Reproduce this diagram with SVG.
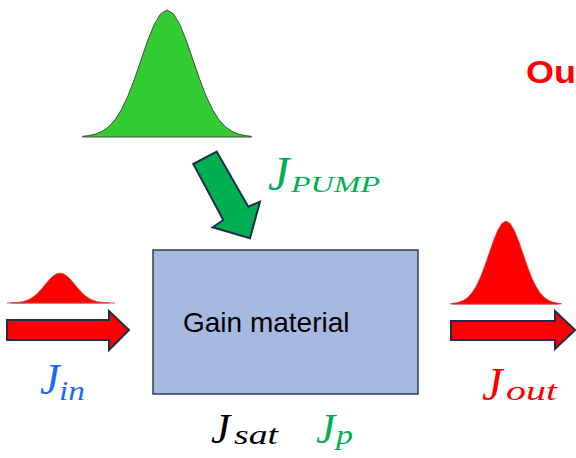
<svg xmlns="http://www.w3.org/2000/svg" xmlns:xlink="http://www.w3.org/1999/xlink" width="576" height="458" viewBox="0 0 576 458">
<style>
.math{font-family:"Liberation Serif","DejaVu Serif",serif;font-style:italic}
.arrow-red{fill:#ff0000;stroke:#1f2d4d;stroke-width:2;stroke-linejoin:miter}
.arrow-green{fill:#00b050;stroke:#1f2d4d;stroke-width:2;stroke-linejoin:miter}
.gauss-red{fill:#ff0000;stroke:#e04040;stroke-width:0.8}
.gauss-green{fill:#33cc33;stroke:#4a4a4a;stroke-width:1}
.label{font-family:"Liberation Sans",Arial,sans-serif}
</style>
<defs>
<path id="gauss" vector-effect="non-scaling-stroke" d="M-3.25,0 L-3.25,-0.0051 L-3,-0.0111 L-2.75,-0.0228 L-2.5,-0.0439 L-2.25,-0.0796 L-2,-0.1353 L-1.75,-0.2163 L-1.5,-0.3247 L-1.25,-0.4578 L-1,-0.6065 L-0.75,-0.7548 L-0.5,-0.8825 L-0.25,-0.9692 L0,-1 L0.25,-0.9692 L0.5,-0.8825 L0.75,-0.7548 L1,-0.6065 L1.25,-0.4578 L1.5,-0.3247 L1.75,-0.2163 L2,-0.1353 L2.25,-0.0796 L2.5,-0.0439 L2.75,-0.0228 L3,-0.0111 L3.25,-0.0051 L3.25,0 Z"/>
</defs>
<rect width="576" height="458" fill="#ffffff"/>

<g id="pump-pulse">
<use xlink:href="#gauss" class="gauss-green" transform="translate(167,137) scale(26,127)"/>
</g>

<g id="input-pulse">
<line x1="7" y1="303" x2="115" y2="303" stroke="#ff4040" stroke-width="1"/>
<use xlink:href="#gauss" class="gauss-red" transform="translate(60,303) scale(15,30)"/>
</g>

<g id="output-pulse">
<line x1="452" y1="304" x2="559" y2="304" stroke="#ff4040" stroke-width="1"/>
<use xlink:href="#gauss" class="gauss-red" transform="translate(506,304) scale(17,83)"/>
</g>

<g id="gain-material">
<rect x="153" y="250" width="265" height="144" fill="#a6b9e0" stroke="#2e3d5c" stroke-width="1.5"/>
<text x="183" y="332" class="label" font-size="28" fill="#000000">Gain material</text>
</g>

<g id="connectors">
<polygon class="arrow-green" points="193.3,164 216.7,151.7 248.3,206.7 260,201.7 250,238.3 212.7,227.3 223.3,220"/>
<polygon class="arrow-red" points="7,320 109,320 109,311 129,330 109,350 109,340 7,340"/>
<polygon class="arrow-red" points="451,321 555,321 555,311 575,330 555,349 555,340 451,340"/>
</g>

<g id="label-pump" fill="#00b050">
<text x="268" y="190" class="math" font-size="48">J</text>
<text x="291" y="192" class="math" font-size="23" textLength="89" lengthAdjust="spacingAndGlyphs">PUMP</text>
</g>

<g id="label-in" fill="#1a6cf0">
<text x="40" y="394" class="math" font-size="44">J</text>
<text x="59" y="400" class="math" font-size="27" textLength="26" lengthAdjust="spacingAndGlyphs">in</text>
</g>

<g id="label-out" fill="#ff0000">
<text x="482" y="400" class="math" font-size="46">J</text>
<text x="506" y="400" class="math" font-size="28" textLength="51" lengthAdjust="spacingAndGlyphs">out</text>
</g>

<g id="label-sat" fill="#000000">
<text x="211" y="443" class="math" font-size="43">J</text>
<text x="234" y="444" class="math" font-size="27" textLength="44" lengthAdjust="spacingAndGlyphs">sat</text>
</g>

<g id="label-p" fill="#00b050">
<text x="316" y="443" class="math" font-size="43">J</text>
<text x="336" y="444" class="math" font-size="27" textLength="17" lengthAdjust="spacingAndGlyphs">p</text>
</g>

<g id="label-output">
<text x="526" y="83" class="label" font-size="31" font-weight="bold" fill="#ff0000" textLength="50" lengthAdjust="spacingAndGlyphs">Ou</text>
</g>
</svg>
